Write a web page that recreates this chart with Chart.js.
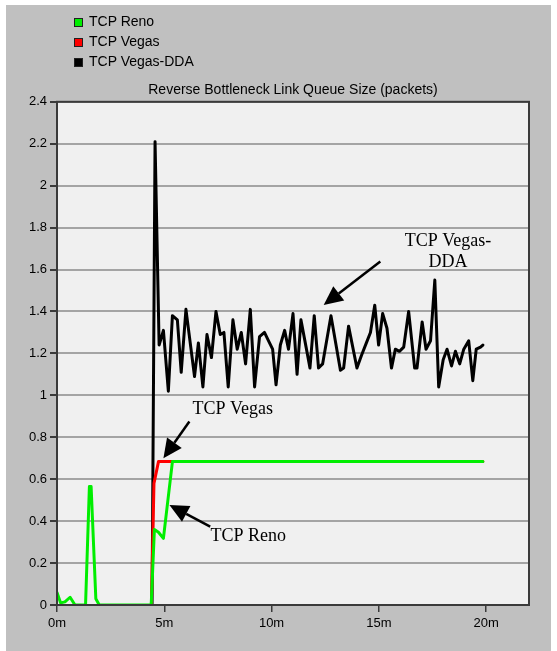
<!DOCTYPE html>
<html lang="en">
<head>
    <meta charset="UTF-8">
    <title>Reverse Bottleneck Link Queue Size</title>
    <script src="https://cdn.jsdelivr.net/npm/chart.js"></script>
    <style>
        body { margin: 0; background: #ffffff; }
        #panel { position: absolute; left: 6px; top: 5px; width: 545px; height: 646px; background: #c0c0c0; }
        #wrap { position: absolute; left: 0; top: 0; width: 557px; height: 651px; }
        #legend { position: absolute; left: 74px; top: 11px; font: 14px "Liberation Sans", Arial, sans-serif; color: #000; }
        #legend div { height: 20px; line-height: 20px; white-space: nowrap; }
        #legend span.box { display: inline-block; width: 7px; height: 7px; border: 1px solid #202020; margin-right: 6px; vertical-align: -1px; }
    </style>
</head>
<body>
    <div id="panel"></div>
    <div id="wrap">
        <canvas id="grafica" width="557" height="651"></canvas>
        <div id="legend"></div>
    </div>

    <script>
        // series names
        var seriesNames = ['TCP Reno', 'TCP Vegas', 'TCP Vegas-DDA'];

        // TCP Reno (time in minutes, queue in packets)
        var renoTimes = [0, 0.17, 0.37, 0.61, 0.84, 1.33, 1.51, 1.59, 1.81, 1.97, 4.39, 4.54, 4.73, 4.96, 5.38, 19.85];
        var renoQueue = [0.06, 0.01, 0.015, 0.037, 0, 0, 0.565, 0.565, 0.03, 0, 0, 0.36, 0.347, 0.318, 0.684, 0.684];

        // TCP Vegas
        var vegasTimes = [4.40, 4.52, 4.73, 19.85];
        var vegasQueue = [0, 0.58, 0.684, 0.684];

        // TCP Vegas-DDA
        var ddaTimes = [4.43, 4.57, 4.76, 4.96, 5.19, 5.38, 5.61, 5.79, 6.01, 6.41, 6.59, 6.80, 6.99, 7.20, 7.41,
            7.61, 7.78, 7.98, 8.20, 8.40, 8.59, 8.79, 9.01, 9.21, 9.44, 9.67, 9.86, 10.05, 10.21, 10.41, 10.61,
            10.79, 11.00, 11.19, 11.37, 11.61, 11.79, 11.99, 12.19, 12.38, 12.77, 13.21, 13.36, 13.59, 13.98,
            14.19, 14.42, 14.61, 14.81, 14.99, 15.18, 15.38, 15.59, 15.77, 15.96, 16.16, 16.39, 16.67, 16.78,
            17.02, 17.20, 17.41, 17.61, 17.79, 18.00, 18.18, 18.39, 18.57, 18.77, 18.96, 19.19, 19.38, 19.54,
            19.74, 19.85];
        var ddaQueue = [0, 2.21, 1.24, 1.31, 1.02, 1.38, 1.36, 1.11, 1.41, 1.09, 1.25, 1.04, 1.29, 1.18, 1.40,
            1.29, 1.30, 1.04, 1.36, 1.22, 1.30, 1.15, 1.41, 1.04, 1.28, 1.30, 1.26, 1.22, 1.05, 1.24, 1.31,
            1.22, 1.39, 1.10, 1.36, 1.23, 1.13, 1.38, 1.13, 1.15, 1.38, 1.12, 1.13, 1.33, 1.13,
            1.19, 1.25, 1.30, 1.43, 1.24, 1.39, 1.32, 1.13, 1.22, 1.21, 1.23, 1.40, 1.13, 1.13,
            1.35, 1.22, 1.26, 1.55, 1.04, 1.17, 1.22, 1.14, 1.21, 1.15, 1.22, 1.26, 1.07, 1.22,
            1.23, 1.24];

        var xTickStep = 5;
        var yTickStep = 0.2;

        // callouts, placed in data units (minutes, packets)
        var callouts = [
            { lines: ['TCP Vegas-', 'DDA'], tx: 18.22, ty: 1.733, from: [15.07, 1.638], to: [12.43, 1.431] },
            { lines: ['TCP Vegas'], tx: 8.19, ty: 0.934, from: [6.17, 0.875], to: [4.96, 0.70] },
            { lines: ['TCP Reno'], tx: 8.91, ty: 0.329, from: [7.14, 0.374], to: [5.24, 0.477] }
        ];

        function puntos(xs, ys) {
            return xs.map(function(x, i) { return { x: x, y: ys[i] }; });
        }

        var fondoPlot = {
            id: 'fondoPlot',
            beforeDraw: function(chart) {
                var a = chart.chartArea, ctx = chart.ctx;
                ctx.save();
                ctx.fillStyle = '#f0f0f0';
                ctx.fillRect(a.left, a.top, a.right - a.left, a.bottom - a.top);
                ctx.restore();
            },
            afterDatasetsDraw: function(chart) {
                var a = chart.chartArea, ctx = chart.ctx;
                ctx.save();
                ctx.strokeStyle = '#3a3a3a';
                ctx.lineWidth = 2;
                ctx.strokeRect(a.left, a.top, a.right - a.left, a.bottom - a.top);
                ctx.restore();
            }
        };

        var flechas = {
            id: 'flechas',
            afterDraw: function(chart) {
                var ctx = chart.ctx, sx = chart.scales.x, sy = chart.scales.y;
                ctx.save();
                ctx.fillStyle = '#000';
                ctx.strokeStyle = '#000';
                ctx.font = '18px "Liberation Serif", "Times New Roman", serif';
                ctx.textAlign = 'center';
                ctx.textBaseline = 'middle';
                callouts.forEach(function(c) {
                    var tx = sx.getPixelForValue(c.tx), ty = sy.getPixelForValue(c.ty);
                    c.lines.forEach(function(t, i) { ctx.fillText(t, tx, ty + i * 21); });
                    var x1 = sx.getPixelForValue(c.from[0]), y1 = sy.getPixelForValue(c.from[1]);
                    var x2 = sx.getPixelForValue(c.to[0]), y2 = sy.getPixelForValue(c.to[1]);
                    var ang = Math.atan2(y2 - y1, x2 - x1), len = 19, half = 9;
                    var bx = x2 - len * Math.cos(ang), by = y2 - len * Math.sin(ang);
                    ctx.lineWidth = 2.5;
                    ctx.beginPath();
                    ctx.moveTo(x1, y1);
                    ctx.lineTo(bx, by);
                    ctx.stroke();
                    ctx.beginPath();
                    ctx.moveTo(x2, y2);
                    ctx.lineTo(bx + half * Math.sin(ang), by - half * Math.cos(ang));
                    ctx.lineTo(bx - half * Math.sin(ang), by + half * Math.cos(ang));
                    ctx.closePath();
                    ctx.fill();
                });
                ctx.restore();
            }
        };

        var colores = ['#00ee00', '#ff0000', '#000000'];
        var ctx = document.getElementById('grafica').getContext('2d');
        var miGrafica = new Chart(ctx, {
            type: 'line',
            data: {
                datasets: [
                    { label: seriesNames[0], data: puntos(renoTimes, renoQueue), borderColor: colores[0] },
                    { label: seriesNames[1], data: puntos(vegasTimes, vegasQueue), borderColor: colores[1] },
                    { label: seriesNames[2], data: puntos(ddaTimes, ddaQueue), borderColor: colores[2] }
                ]
            },
            options: {
                responsive: false,
                animation: false,
                layout: { padding: { top: 82, left: 6, right: 28, bottom: 0 } },
                elements: {
                    line: { borderWidth: 3, tension: 0, borderJoinStyle: 'round', borderCapStyle: 'round' },
                    point: { radius: 0 }
                },
                scales: {
                    x: {
                        type: 'linear',
                        min: 0,
                        max: 22,
                        afterFit: function(s) { s.height = 46; },
                        grid: { drawOnChartArea: false, tickLength: 7, tickColor: '#3a3a3a', lineWidth: 1.5 },
                        border: { color: '#3a3a3a', width: 2 },
                        ticks: {
                            stepSize: xTickStep,
                            includeBounds: false,
                            maxRotation: 0,
                            padding: 4,
                            color: '#000',
                            font: { family: '"Liberation Sans", Arial, sans-serif', size: 13 },
                            callback: function(v) { return v + 'm'; }
                        }
                    },
                    y: {
                        min: 0,
                        max: 2.4,
                        afterFit: function(s) { s.width = 51; },
                        grid: { color: '#a4a4a4', lineWidth: 2, tickLength: 7, tickColor: '#3a3a3a' },
                        border: { color: '#3a3a3a', width: 2 },
                        ticks: {
                            stepSize: yTickStep,
                            padding: 3,
                            color: '#000',
                            font: { family: '"Liberation Sans", Arial, sans-serif', size: 13 },
                            callback: function(v) { return String(+v.toFixed(1)); }
                        }
                    }
                },
                plugins: {
                    legend: { display: false },
                    tooltip: { enabled: false },
                    title: {
                        display: true,
                        fullSize: false,
                        text: 'Reverse Bottleneck Link Queue Size (packets)',
                        color: '#000',
                        font: { family: '"Liberation Sans", Arial, sans-serif', size: 14, weight: 'normal' },
                        padding: { top: 0, bottom: 3 }
                    }
                }
            },
            plugins: [fondoPlot, flechas]
        });

        // legend like the original: vertical list with small squares
        var leyenda = document.getElementById('legend');
        miGrafica.data.datasets.forEach(function(d) {
            var fila = document.createElement('div');
            var caja = document.createElement('span');
            caja.className = 'box';
            caja.style.background = d.borderColor;
            fila.appendChild(caja);
            fila.appendChild(document.createTextNode(d.label));
            leyenda.appendChild(fila);
        });
    </script>
</body>
</html>
